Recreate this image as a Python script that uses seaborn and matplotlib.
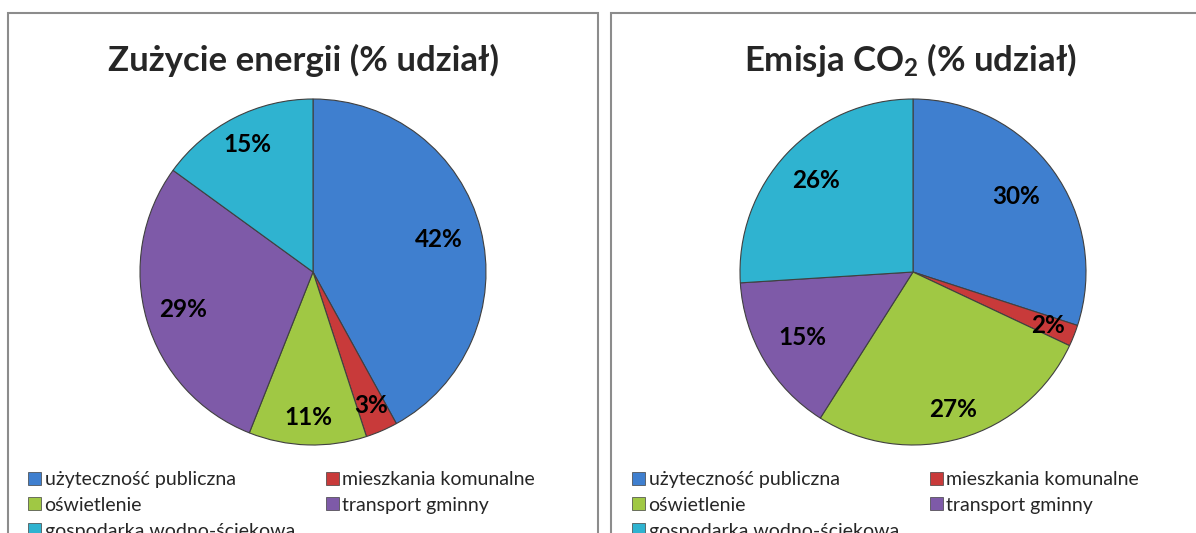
import matplotlib
matplotlib.use('Agg')
import matplotlib.pyplot as plt
import seaborn as sns
import numpy as np
from matplotlib.patches import Rectangle, Patch

categories = ['użyteczność publiczna', 'mieszkania komunalne', 'oświetlenie',
              'transport gminny', 'gospodarka wodno-ściekowa']
energy_share = [42, 3, 11, 29, 15]
co2_share = [30, 2, 27, 15, 26]
titles = ['Zużycie energii (% udział)', 'Emisja CO$_\\mathrm{2}$ (% udział)']

colors = ['#3f7fcf', '#c83a3a', '#a0c844', '#7e5aa8', '#2fb3d0']

sns.set_theme(style='white')
plt.rcParams['font.family'] = ['Lato', 'DejaVu Sans']
plt.rcParams['mathtext.fontset'] = 'custom'
plt.rcParams['mathtext.rm'] = 'Lato:bold'
plt.rcParams['mathtext.it'] = 'Lato:bold'

fig = plt.figure(figsize=(11.96, 5.33), dpi=100)
W, H = 1196, 533

# panel frames
for x0, x1 in [(8, 598), (611, 1230)]:
    fig.patches.append(Rectangle((x0 / W, -0.1), (x1 - x0) / W, (H - 13) / H + 0.1,
                                 transform=fig.transFigure, fill=False,
                                 edgecolor='#8c8c8c', linewidth=1.5))

# label distance from centre (fraction of radius), like Excel's best fit
label_r = [[0.75, 0.84, 0.84, 0.78, 0.83],
           [0.74, 0.84, 0.83, 0.74, 0.77]]

panels = [(313, energy_share, titles[0], 303, 28),
          (913, co2_share, titles[1], 910, 632)]

for k, (cx, vals, title, tx, lx) in enumerate(panels):
    r = 173
    ax = fig.add_axes([(cx - r) / W, (H - 272 - r) / H, 2 * r / W, 2 * r / H])
    wedges, texts, autotexts = ax.pie(
        vals, colors=colors, startangle=90, counterclock=False,
        autopct='%d%%', pctdistance=0.8,
        wedgeprops=dict(edgecolor='#404040', linewidth=0.8),
        textprops=dict(fontsize=17.5, fontweight='bold', color='black'))
    for w, t, d in zip(wedges, autotexts, label_r[k]):
        ang = np.deg2rad((w.theta1 + w.theta2) / 2)
        t.set_position((d * np.cos(ang), d * np.sin(ang)))
    ax.set_xlim(-1, 1)
    ax.set_ylim(-1, 1)
    ax.set_aspect('auto')
    ax.axis('off')

    fig.text(tx / W, 1 - 60 / H, title, ha='center', va='center',
             fontsize=25, fontweight='bold')

    handles = [Patch(facecolor=c, edgecolor='#404040', linewidth=0.5) for c in colors]
    order = [0, 2, 4, 1, 3]
    fig.legend([handles[i] for i in order], [categories[i] for i in order],
               loc='upper left', bbox_to_anchor=(lx / W, 1 - 471 / H),
               ncol=2, frameon=False, fontsize=14,
               handlelength=0.65, handleheight=0.65, handletextpad=0.2,
               labelspacing=0.45, columnspacing=1.6, borderpad=0,
               borderaxespad=0)

fig.savefig('out.png', dpi=100)
